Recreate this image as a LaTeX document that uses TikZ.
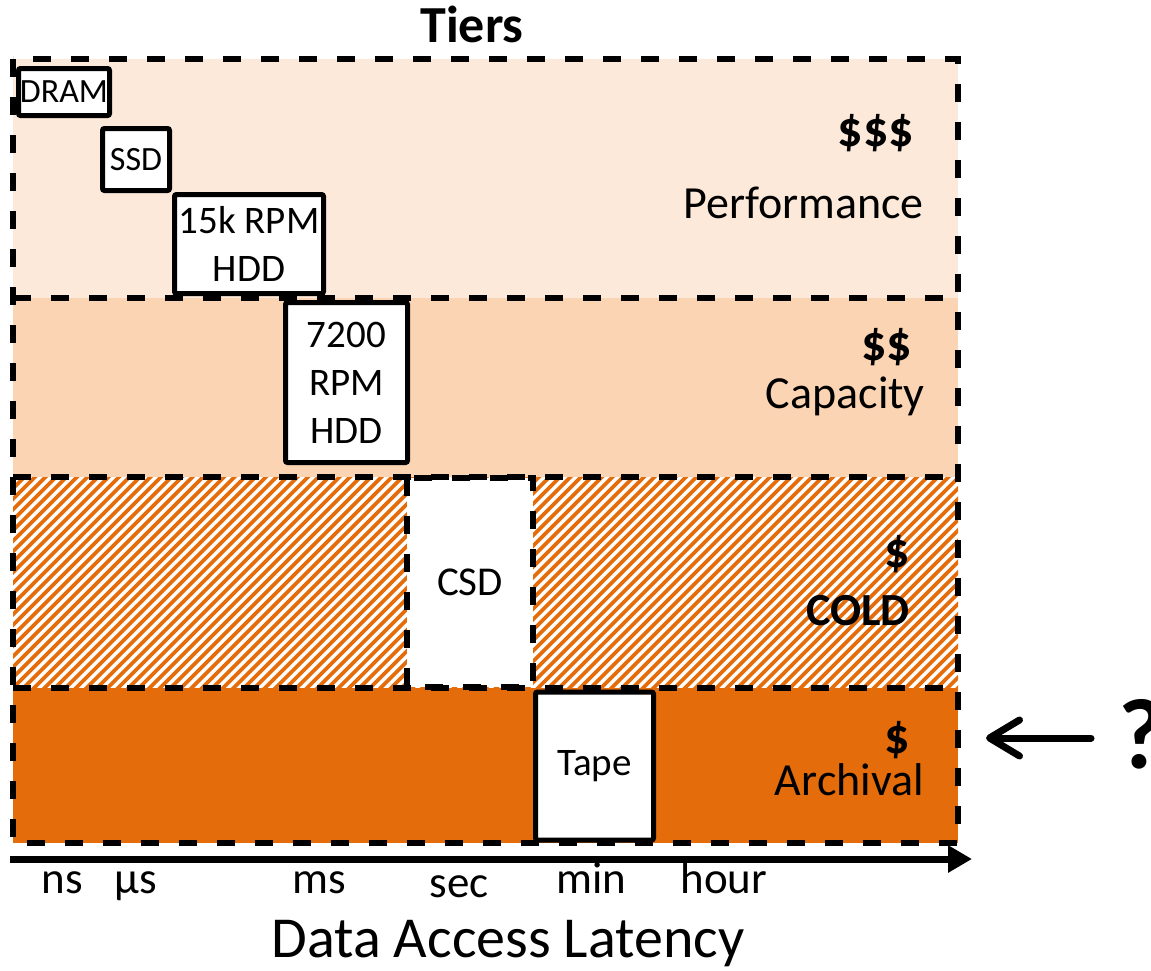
\documentclass[tikz,border=0pt]{standalone}
\usepackage{fontspec}
\setmainfont{Carlito}
\usetikzlibrary{arrows.meta,positioning}
\definecolor{perfbg}{HTML}{FDE9D9}
\definecolor{capbg}{HTML}{FBD4B4}
\definecolor{coldorange}{HTML}{E46C0A}

\begin{document}
\begin{tikzpicture}[x=1pt, y=-1pt,
    devbox/.style={rectangle, draw, line width=5pt, fill=white, rounded corners=2pt, inner sep=0pt, align=center, font=\fontsize{39}{48}\selectfont},
    tierline/.style={line width=5.5pt, dash pattern=on 18pt off 20pt},
    tiername/.style={anchor=base east, inner sep=0pt, font=\fontsize{46}{50}\selectfont},
    cost/.style={anchor=base east, inner sep=0pt, font=\bfseries\fontsize{50}{54}\selectfont},
    tick/.style={anchor=base, inner sep=0pt, font=\fontsize{45}{50}\selectfont}
]
\useasboundingbox (0,0) rectangle (1151,970);

% tier bands
\fill[perfbg] (13,59) rectangle (958,298);
\fill[capbg] (13,298) rectangle (958,477);
\fill[coldorange] (13,688) rectangle (958,843);
\begin{scope}
  \clip (13,477) rectangle (958,688);
  \foreach \i in {-230,-219.5,...,970}
    \draw[coldorange, line width=3.7pt] (\i,700) -- ++(240,-240);
\end{scope}
\node[rectangle, fill=white, inner sep=0pt, minimum width=126pt, minimum height=209pt, font=\fontsize{41}{48}\selectfont] (csd) at (470,582.5) {CSD};

% dashed tier borders
\draw[tierline] (13,298) -- (958,298);
\draw[tierline] (13,477) -- (958,477);
\draw[tierline] (13,688) -- (958,688);
\draw[tierline] (csd.north west) rectangle (csd.south east);
\draw[tierline] (13,59) rectangle (958,843);

% devices
\node[devbox, minimum width=91pt, minimum height=47pt, font=\fontsize{34}{38}\selectfont] (dram) at (64,92) {DRAM};
\node[devbox, minimum width=67pt, minimum height=62pt, font=\fontsize{34}{38}\selectfont] (ssd) at (136,159.5) {SSD};
\node[devbox, minimum width=149pt, minimum height=99pt] (hdd15k) at (249,244) {15k RPM\\HDD};
\node[devbox, minimum width=122pt, minimum height=160pt] (hdd7200) at (346.5,382.5) {7200\\RPM\\HDD};
\node[devbox, minimum width=118pt, minimum height=148pt] (tape) at (594.5,766) {Tape};

% tier labels
\node[anchor=base, inner sep=0pt, font=\bfseries\fontsize{52}{56}\selectfont] (tiers) at (472,42) {Tiers};
\node[cost] (perfcost) at (914,146) {\$\$\$};
\node[tiername] (perf) at (924,218) {Performance};
\node[cost] (capcost) at (912,360) {\$\$};
\node[tiername] (cap) at (925,408) {Capacity};
\node[cost] (coldcost) at (910,567) {\$};
\node[cost, font=\bfseries\fontsize{46}{50}\selectfont] (cold) at (910,625) {COLD};
\node[cost] (archcost) at (910,753) {\$};
\node[tiername] (arch) at (924,795) {Archival};

% latency axis
\coordinate (axstart) at (10,859);
\coordinate (axend) at (972,859);
\draw[line width=7pt, -{Triangle[length=24pt, width=26pt]}] (axstart) -- (axend);
\node[tick] (ns) at (62,893) {ns};
\node[tick] (us) at (136,893) {µs};
\node[tick] (ms) at (319,893) {ms};
\node[tick] (sec) at (459,897) {sec};
\node[tick] (min) at (591,893) {min};
\node[tick] (hour) at (724,893) {hour};
\node[anchor=base, inner sep=0pt, font=\fontsize{58}{62}\selectfont] (latency) at (508,957) {Data Access Latency};

% open question
\node[anchor=base west, inner sep=0pt, font=\bfseries\fontsize{100}{110}\selectfont] (question) at (1118,768) {?};
\coordinate (qtail) at (1091,738);
\coordinate (qtip) at (986,738);
\draw[line width=7pt, line cap=round, -{Straight Barb[length=30pt, width=36pt, round]}] (qtail) -- (qtip);

\end{tikzpicture}
\end{document}
